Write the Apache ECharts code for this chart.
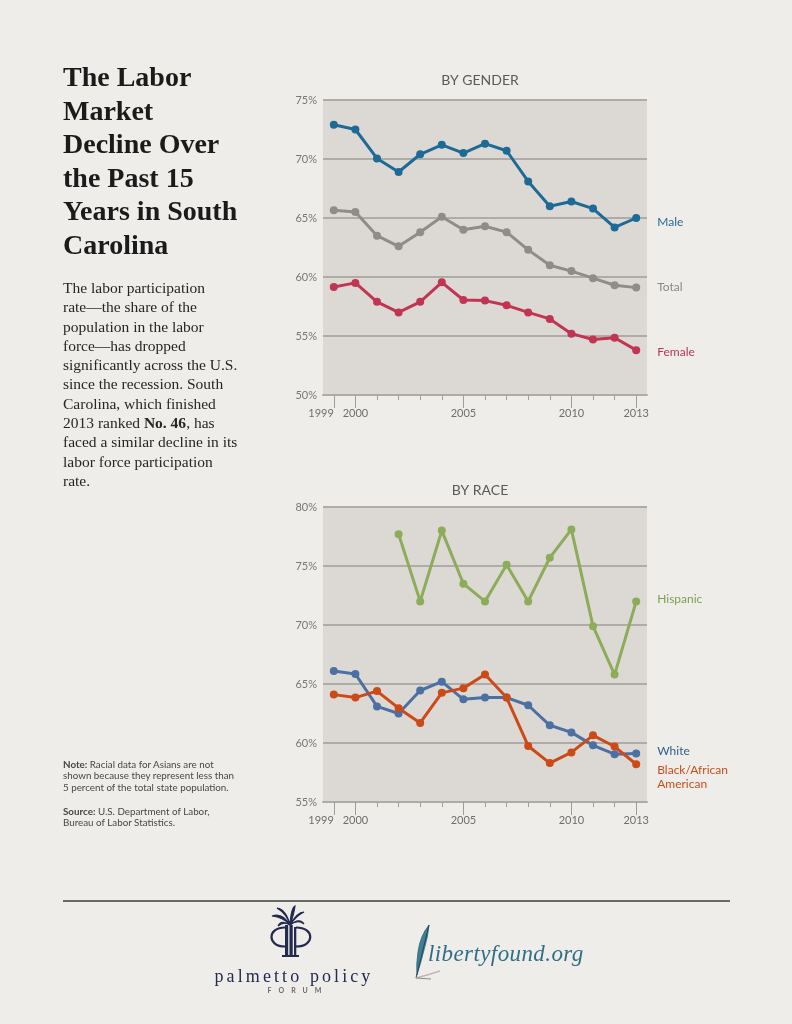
<!DOCTYPE html>
<html>
<head>
<meta charset="utf-8">
<script src="https://cdn.jsdelivr.net/npm/echarts@6/dist/echarts.min.js"></script>
<style>
  html, body { margin: 0; padding: 0; background: #efedea; }
  #wrap { position: relative; width: 792px; height: 1024px; overflow: hidden; background: #efedea; }
  #chart { position: absolute; left: 0; top: 0; width: 792px; height: 1024px; }
  .t { position: absolute; white-space: nowrap; }
  #title { left: 63px; top: 60px; font: bold 28px/33.5px "Liberation Serif", serif; color: #1b1b1b; }
  #body { left: 63px; top: 278px; font: 15.5px/19.3px "Liberation Serif", serif; color: #262626; }
  #note, #source { left: 63px; font: 9.8px/11.3px Lato, "Open Sans", sans-serif; color: #474747; }
  #note { top: 759px; }
  #source { top: 806px; }
  #pp { left: 191px; width: 200px; text-align: center; top: 967px; font: 18px/1 "Liberation Serif", serif; letter-spacing: 3.1px; padding-left: 3px; color: #232b50; }
  #forum { left: 241px; width: 100px; text-align: center; top: 987px; font: bold 7px/1 Lato, sans-serif; letter-spacing: 7px; color: #6a6a6a; padding-left: 7px; }
  #lib { left: 428px; top: 942px; font: italic 23px/1 "Liberation Serif", serif; color: #2f6f86; letter-spacing: 0.4px; }
  svg.logo { position: absolute; left: 0; top: 0; }
</style>
</head>
<body>
<div id="wrap">
  <div id="chart"></div>
  <div class="t" id="title">The Labor<br>Market<br>Decline Over<br>the Past 15<br>Years in South<br>Carolina</div>
  <div class="t" id="body">The labor participation<br>rate—the share of the<br>population in the labor<br>force—has dropped<br>significantly across the U.S.<br>since the recession. South<br>Carolina, which finished<br>2013 ranked <b>No. 46</b>, has<br>faced a similar decline in its<br>labor force participation<br>rate.</div>
  <div class="t" id="note"><b>Note:</b> Racial data for Asians are not<br>shown because they represent less than<br>5 percent of the total state population.</div>
  <div class="t" id="source"><b>Source:</b> U.S. Department of Labor,<br>Bureau of Labor Statistics.</div>
  <svg class="logo" width="792" height="1024" viewBox="0 0 792 1024">
    <g fill="#222a4e">
      <rect x="285" y="925" width="3.2" height="31"/>
      <rect x="289.5" y="925" width="3.2" height="31"/>
      <rect x="294" y="927" width="2.3" height="29"/>
      <rect x="282" y="955" width="17" height="2"/>
      <path d="M290 925 Q282 912 272 916 Q283 917 290 925 Z M290 925 Q286 909 277 908 Q287 914 290 925 Z M290 925 Q291 908 295 906 Q294 914 290 925 Z M290 925 Q297 912 304 912 Q297 915 290 925 Z M290 925 Q300 917 304 924 Q298 919 290 925 Z M290 925 Q281 919 278 926 Q284 921 290 925 Z" stroke="#222a4e" stroke-width="1.2"/>
    </g>
    <path d="M285 927.5 C267 927.5 267 946.5 285 946.5" stroke="#222a4e" stroke-width="2.2" fill="none"/>
    <path d="M296 927.5 C315 927.5 315 946.5 296 946.5" stroke="#222a4e" stroke-width="2.2" fill="none"/>
    <path d="M429 925 Q420 936 418 952 Q416 965 417 975 Q421 962 424 950 Q428 937 429 925 Z" fill="#3e7f94" stroke="#2e6579" stroke-width="0.8"/>
    <path d="M429 925 Q423 950 416 978" stroke="#24485a" stroke-width="1" fill="none"/>
    <path d="M416 978 Q428 975 440 971" stroke="#c9b3b8" stroke-width="1.5" fill="none"/>
    <path d="M416 978 L431 979" stroke="#8a8a8a" stroke-width="1" fill="none"/>
  </svg>
  <div class="t" id="pp">palmetto policy</div>
  <div class="t" id="forum">FORUM</div>
  <div class="t" id="lib">libertyfound.org</div>
</div>
<script>
// ---- data ----
const years = ['1999','2000','2001','2002','2003','2004','2005','2006','2007','2008','2009','2010','2011','2012','2013'];
const labeledYears = ['1999','2000','2005','2010','2013'];
const male   = [72.9, 72.5, 70.05, 68.9, 70.4, 71.2, 70.5, 71.3, 70.7, 68.1, 66.0, 66.4, 65.8, 64.2, 65.0];
const total  = [65.65, 65.5, 63.5, 62.6, 63.8, 65.1, 64.0, 64.3, 63.8, 62.3, 61.0, 60.5, 59.9, 59.3, 59.1];
const female = [59.15, 59.5, 57.9, 57.0, 57.9, 59.55, 58.05, 58.0, 57.6, 57.0, 56.45, 55.2, 54.7, 54.85, 53.8];
const hispanic = [null, null, null, 77.7, 72.0, 78.0, 73.5, 72.0, 75.1, 72.0, 75.7, 78.1, 69.9, 65.8, 72.0];
const white  = [66.1, 65.85, 63.1, 62.5, 64.45, 65.2, 63.7, 63.85, 63.85, 63.2, 61.5, 60.9, 59.8, 59.05, 59.1];
const black  = [64.1, 63.85, 64.4, 62.95, 61.7, 64.25, 64.65, 65.8, 63.85, 59.75, 58.3, 59.2, 60.65, 59.7, 58.2];
const genderRange = [50, 75];
const raceRange = [55, 80];
const tickStep = 5;

const chart = echarts.init(document.getElementById('chart'), null, { renderer: 'canvas' });

const lineGray = '#afaca8';
const tickGray = '#a19e9a';
const font = 'Lato';

function mainX(gi) {
  return {
    type: 'category', gridIndex: gi, data: years, boundaryGap: true, position: 'bottom',
    axisLine: { show: true, lineStyle: { color: lineGray, width: 2 } },
    axisTick: { show: true, alignWithLabel: true, interval: 0, length: 5, lineStyle: { color: tickGray, width: 1 } },
    axisLabel: {
      show: true, margin: 13, color: '#6e6e6e', fontFamily: font, fontSize: 11,
      showMinLabel: true, showMaxLabel: true, hideOverlap: false, alignMinLabel: 'right',
      interval: (i, v) => labeledYears.includes(v)
    },
    splitLine: { show: false }
  };
}
function longTickX(gi) {
  return {
    type: 'category', gridIndex: gi, data: years, boundaryGap: true, position: 'bottom',
    axisLine: { show: false },
    axisTick: { show: true, alignWithLabel: true, length: 13, interval: (i, v) => labeledYears.includes(v),
      lineStyle: { color: tickGray, width: 1 } },
    axisLabel: { show: false },
    splitLine: { show: false }
  };
}
function yAx(gi, range) {
  return {
    type: 'value', gridIndex: gi, min: range[0], max: range[1], interval: tickStep,
    axisLine: { show: false }, axisTick: { show: false },
    axisLabel: { formatter: '{value}%', color: '#777', fontFamily: font, fontSize: 11, margin: 6 },
    splitLine: { show: true, lineStyle: { color: lineGray, width: 2 } }
  };
}
function ser(name, data, color, xi, yi, labelColor, offY, fmt) {
  return {
    name, type: 'line', data, xAxisIndex: xi, yAxisIndex: yi,
    symbol: 'circle', symbolSize: 8, connectNulls: false,
    lineStyle: { color, width: 3 }, itemStyle: { color },
    emphasis: { disabled: true },
    endLabel: {
      show: true, formatter: fmt || '{a}', color: labelColor || color, fontFamily: font, fontSize: 12,
      distance: 21, offset: [0, offY || 0], lineHeight: 14, align: 'left'
    },
    z: 3
  };
}

const option = {
  animation: false,
  backgroundColor: 'transparent',
  grid: [
    { left: 323, top: 100, width: 324, height: 295, show: true, backgroundColor: '#dcd9d5', borderWidth: 0 },
    { left: 323, top: 507, width: 324, height: 295, show: true, backgroundColor: '#dcd9d5', borderWidth: 0 }
  ],
  xAxis: [mainX(0), longTickX(0), mainX(1), longTickX(1)],
  yAxis: [yAx(0, genderRange), yAx(1, raceRange)],
  series: [
    ser('Male', male, '#1e6a97', 0, 0, '#2a6b94', 4),
    ser('Total', total, '#8f8c8a', 0, 0, '#8a8886', 0),
    ser('Female', female, '#c13552', 0, 0, '#b83657', 2),
    ser('Hispanic', hispanic, '#8cac59', 2, 1, '#7e9e52', -2),
    ser('White', white, '#4b70a1', 2, 1, '#2f5f86', -2),
    ser('Black', black, '#cc4a18', 2, 1, '#c2501e', 13, 'Black/African\nAmerican')
  ],
  graphic: [
    { type: 'text', x: 480, y: 80, style: { text: 'BY GENDER', fill: '#5a5a5a', font: '14px Lato', align: 'center', verticalAlign: 'middle' } },
    { type: 'text', x: 480, y: 490, style: { text: 'BY RACE', fill: '#5a5a5a', font: '14px Lato', align: 'center', verticalAlign: 'middle' } },
    { type: 'line', shape: { x1: 63, y1: 901, x2: 730, y2: 901 }, style: { stroke: '#3c3c3c', lineWidth: 1.5 } }
  ]
};
chart.setOption(option);
</script>
</body>
</html>
